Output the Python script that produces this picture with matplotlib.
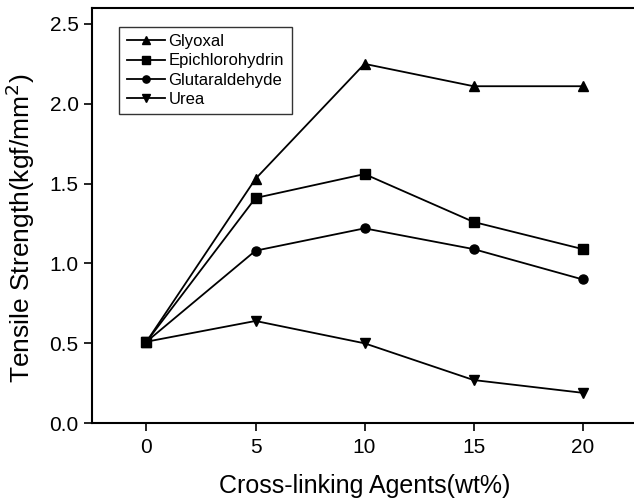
import matplotlib
matplotlib.use('Agg')
import matplotlib.pyplot as plt

plt.rcParams['font.family'] = ['Liberation Sans', 'DejaVu Sans']

agent_wt = [0, 5, 10, 15, 20]
glyoxal = [0.51, 1.53, 2.25, 2.11, 2.11]
epichlorohydrin = [0.51, 1.41, 1.56, 1.26, 1.09]
glutaraldehyde = [0.51, 1.08, 1.22, 1.09, 0.90]
urea = [0.51, 0.64, 0.50, 0.27, 0.19]

fig = plt.figure(figsize=(6.34, 4.99), dpi=100)
ax = fig.add_axes([0.145, 0.152, 0.86, 0.832])

series = [
    (glyoxal, '^', 'Glyoxal'),
    (epichlorohydrin, 's', 'Epichlorohydrin'),
    (glutaraldehyde, 'o', 'Glutaraldehyde'),
    (urea, 'v', 'Urea'),
]
for vals, mk, name in series:
    ax.plot(agent_wt, vals, color='black', lw=1.3, marker=mk, ms=6.5, label=name)

ax.set_xlim(-2.5, 22.5)
ax.set_ylim(0, 2.6)
ax.set_xticks([0, 5, 10, 15, 20])
ax.set_yticks([0.0, 0.5, 1.0, 1.5, 2.0, 2.5])
ax.set_yticklabels(['0.0', '0.5', '1.0', '1.5', '2.0', '2.5'])
ax.tick_params(direction='out', length=6, width=1.2, labelsize=15)
ax.tick_params(axis='x', pad=5)
ax.spines['right'].set_visible(False)
for s in ['left', 'bottom', 'top']:
    ax.spines[s].set_linewidth(1.5)

ax.set_xlabel('Cross-linking Agents(wt%)', fontsize=18, labelpad=12)
ax.set_ylabel('Tensile Strength(kgf/mm$^2$)', fontsize=19)
ax.yaxis.set_label_coords(-0.1, 0.47)

leg = ax.legend(loc='upper left', bbox_to_anchor=(0.035, 0.975), fontsize=12,
                frameon=True, fancybox=False, edgecolor='black',
                handlelength=2.3, handletextpad=0.2, labelspacing=0.25,
                borderpad=0.45, markerscale=0.8)
leg.get_frame().set_linewidth(1.0)

fig.savefig('out.png', dpi=100)
